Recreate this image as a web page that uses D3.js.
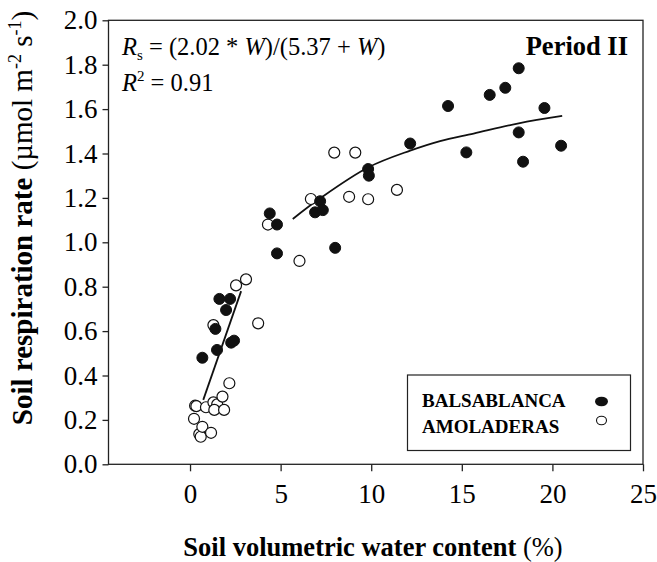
<!DOCTYPE html>
<html><head><meta charset="utf-8">
<script src="https://cdn.jsdelivr.net/npm/d3@7"></script>
<style>body{margin:0;background:#fff}svg{display:block}text{font-family:"Liberation Serif","Times New Roman",serif;fill:#000}</style>
</head><body>
<script>
// ---- data ----
const balsaW = [0.68,1.49,1.4,1.62,2.21,1.99,2.27,2.43,4.4,4.8,4.8,6.9,7.18,7.33,8.01,9.83,9.87,12.15,14.24,15.25,16.54,17.4,18.14,18.14,18.38,19.56,20.48];
const balsaR = [0.48,0.515,0.61,0.745,0.745,0.695,0.548,0.557,1.13,1.08,0.95,1.135,1.185,1.145,0.975,1.33,1.30,1.445,1.614,1.405,1.664,1.696,1.784,1.495,1.363,1.605,1.435];
const amolW = [0.28,0.35,0.22,0.51,0.59,0.68,1.16,0.88,1.29,1.5,1.34,1.79,1.88,2.17,1.29,2.54,3.09,3.76,4.3,6.04,6.67,7.96,9.12,8.78,9.83,11.42];
const amolR = [0.264,0.262,0.205,0.136,0.124,0.169,0.142,0.257,0.279,0.27,0.245,0.305,0.245,0.365,0.627,0.806,0.833,0.635,1.08,0.916,1.195,1.404,1.404,1.205,1.194,1.236];
const fitSeg1W = [0.73,2.82];
const fitSeg1R = [0.29,0.78];
const fitSeg2W = [5.67,7.18,9.85,12.15,13.8,15.65,18.14,20.54];
const fitSeg2R = [1.105,1.198,1.338,1.413,1.456,1.49,1.536,1.569];
const xTicks = [0,5,10,15,20,25];
const yTicks = [0,0.2,0.4,0.6,0.8,1.0,1.2,1.4,1.6,1.8,2.0];
const seriesNames = ["BALSABLANCA","AMOLADERAS"];

const W = 657, H = 562;
const svg = d3.select("body").append("svg").attr("width",W).attr("height",H);
const L = 108.5, R = 643, T = 20.3, B = 464.3;
const x = d3.scaleLinear().domain([-4.5,25]).range([L,R]);
const y = d3.scaleLinear().domain([0,2]).range([B,T]);

// frame
svg.append("rect").attr("x",L).attr("y",T).attr("width",R-L).attr("height",B-T)
  .attr("fill","none").attr("stroke","#222").attr("stroke-width",1.3);

const xAxis = svg.append("g").attr("transform",`translate(0,${B})`)
  .call(d3.axisBottom(x).tickValues(xTicks).tickSize(7).tickPadding(13).tickFormat(d3.format("d")));
const yAxis = svg.append("g").attr("transform",`translate(${L},0)`)
  .call(d3.axisLeft(y).tickValues(yTicks).tickSize(6).tickPadding(5).tickFormat(d3.format(".1f")));
[xAxis,yAxis].forEach(g=>{
  g.attr("font-family",null);
  g.select(".domain").remove();
  g.selectAll(".tick line").attr("stroke","#222").attr("stroke-width",1.3);
  g.selectAll(".tick text").attr("font-size",27).style("font-family","'Liberation Serif', serif").attr("fill","#000");
});

// fitted curve
const line = d3.line().x(d=>x(d[0])).y(d=>y(d[1])).curve(d3.curveCatmullRom);
svg.append("path").datum(fitSeg1W.map((w,i)=>[w,fitSeg1R[i]])).attr("d",line)
  .attr("fill","none").attr("stroke","#111").attr("stroke-width",1.8);
svg.append("path").datum(fitSeg2W.map((w,i)=>[w,fitSeg2R[i]])).attr("d",line)
  .attr("fill","none").attr("stroke","#111").attr("stroke-width",1.8);

// points
svg.append("g").selectAll("circle").data(amolW.map((w,i)=>[w,amolR[i]])).join("circle")
  .attr("cx",d=>x(d[0])).attr("cy",d=>y(d[1])).attr("r",5.5)
  .attr("fill","#fff").attr("stroke","#111").attr("stroke-width",1.2);
svg.append("g").selectAll("circle").data(balsaW.map((w,i)=>[w,balsaR[i]])).join("circle")
  .attr("cx",d=>x(d[0])).attr("cy",d=>y(d[1])).attr("r",5.5)
  .attr("fill","#111").attr("stroke","#111").attr("stroke-width",1);

// equation
const eq = svg.append("text").attr("x",122).attr("y",55).attr("font-size",24.5);
eq.append("tspan").attr("font-style","italic").text("R");
eq.append("tspan").attr("font-size",15).attr("dy",5).text("s");
eq.append("tspan").attr("dy",-5).text(" = (2.02 * ");
eq.append("tspan").attr("font-style","italic").text("W");
eq.append("tspan").text(")/(5.37 + ");
eq.append("tspan").attr("font-style","italic").text("W");
eq.append("tspan").text(")");
const r2 = svg.append("text").attr("x",122).attr("y",91).attr("font-size",24.5);
r2.append("tspan").attr("font-style","italic").text("R");
r2.append("tspan").attr("font-size",15).attr("dy",-10).text("2");
r2.append("tspan").attr("dy",10).text(" = 0.91");

svg.append("text").attr("x",628).attr("y",55).attr("text-anchor","end")
  .attr("font-size",26.5).attr("font-weight","bold").text("Period II");

// legend
svg.append("rect").attr("x",407.5).attr("y",375).attr("width",223).attr("height",75.5)
  .attr("fill","#fff").attr("stroke","#222").attr("stroke-width",1.2);
svg.append("text").attr("x",422).attr("y",407).attr("font-size",19).attr("font-weight","bold").text(seriesNames[0]);
svg.append("text").attr("x",422).attr("y",433).attr("font-size",19).attr("font-weight","bold").text(seriesNames[1]);
svg.append("ellipse").attr("cx",601.5).attr("cy",401.5).attr("rx",6.5).attr("ry",4.8).attr("fill","#111");
svg.append("ellipse").attr("cx",601.5).attr("cy",420.5).attr("rx",5).attr("ry",4.2).attr("fill","#fff").attr("stroke","#111").attr("stroke-width",1.1);

// axis titles
const xt = svg.append("text").attr("x",373).attr("y",556).attr("text-anchor","middle").attr("font-size",26.5);
xt.append("tspan").attr("font-weight","bold").text("Soil volumetric water content ");
xt.append("tspan").text("(%)");

const yt = svg.append("text").attr("transform","translate(32,218) rotate(-90)").attr("text-anchor","middle").attr("font-size",29);
yt.append("tspan").attr("font-weight","bold").text("Soil respiration rate ");
yt.append("tspan").text("(\u00b5mol m");
yt.append("tspan").attr("font-size",18).attr("dy",-11).text("-2");
yt.append("tspan").attr("dy",11).text(" s");
yt.append("tspan").attr("font-size",18).attr("dy",-11).text("-1");
yt.append("tspan").attr("dy",11).text(")");
</script>
</body></html>
